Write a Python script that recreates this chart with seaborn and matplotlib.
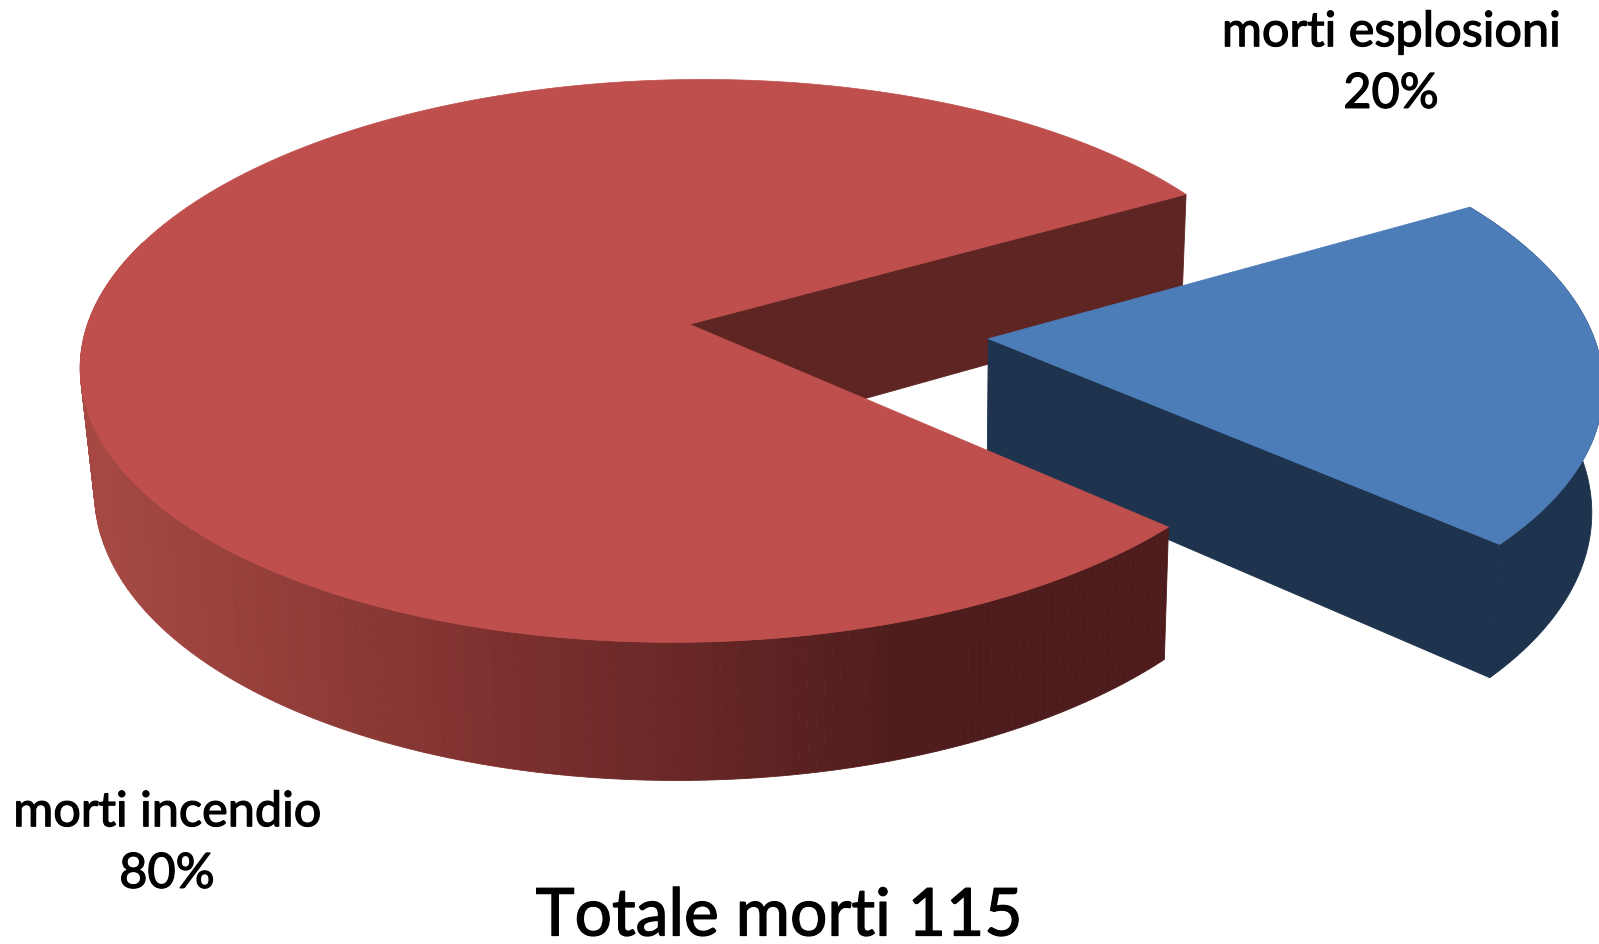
import numpy as np
import matplotlib
matplotlib.use('Agg')
import matplotlib.pyplot as plt
import matplotlib.patheffects as pe
import seaborn as sns

categorie = ['morti incendio', 'morti esplosioni']
morti = [92, 23]
colori_top = ['#BF4F4C', '#4C7DB8']
titolo = 'Totale morti 115'

sns.set_theme(style='white')
plt.rcParams['font.family'] = ['Lato', 'DejaVu Sans']

# vista 3D della torta, in pixel
cx, cy = 689.5, 324.3
a, b, s, k = 602, 276.7, 15, 0.13
inizio = -42.0   # angolo dove parte la fetta blu
esplosione = 0.497
dir_esplosione = np.radians(-6)


def proietta(X, Y):
    w = 1 + k * Y
    return cx + (a * X + s * Y) / w, cy - b * Y / w


def base(x, y):
    return cx + 4 + 0.983 * (x - cx), 106 + 1.05 * y


def faccia(ax, xa, ya, xb, yb, colore, z):
    ax.fill(np.r_[xa, xb[::-1]], np.r_[ya, yb[::-1]], color=colore, lw=0.6, zorder=z)


fig, ax = plt.subplots(figsize=(15.99, 9.44), dpi=100)
fig.subplots_adjust(0, 0, 1, 1)
ax.set_xlim(0, 1599)
ax.set_ylim(944, 0)
ax.axis('off')

fine_blu = inizio + 360 * morti[1] / sum(morti)
dx, dy = esplosione * np.cos(dir_esplosione), esplosione * np.sin(dir_esplosione)

# fetta rossa: faccia interna, lato esterno sfumato, sopra
t_rosso = np.radians(np.linspace(fine_blu, inizio + 360, 400))
xr, yr = proietta(np.cos(t_rosso), np.sin(t_rosso))
xrb, yrb = base(xr, yr)
x0, y0 = proietta(np.array([0.0]), np.array([0.0]))
x0b, y0b = base(x0, y0)
faccia(ax, np.r_[x0, xr[0]], np.r_[y0, yr[0]], np.r_[x0b, xrb[0]], np.r_[y0b, yrb[0]], '#5E2523', 1)

sfumatura = sns.blend_palette(['#A54842', '#7C302E', '#4E1C1C'], 80)
visibili = np.where(t_rosso > np.pi * 0.9)[0]
for i in visibili[:-1]:
    pos = np.clip((xr[i] - 95) / (900 - 95), 0, 1)
    faccia(ax, xr[i:i + 2], yr[i:i + 2], xrb[i:i + 2], yrb[i:i + 2], sfumatura[int(pos * 79)], 4)
ax.fill(np.r_[x0, xr], np.r_[y0, yr], color=colori_top[0], lw=0.5, zorder=5)

# fetta blu esplosa
t_blu = np.radians(np.linspace(inizio, fine_blu, 150))
xt, yt = proietta(dx + np.cos(t_blu), dy + np.sin(t_blu))
xtb, ytb = base(xt, yt)
xc, yc = proietta(np.array([dx]), np.array([dy]))
xcb, ycb = base(xc, yc)
faccia(ax, np.r_[xc, xt[0]], np.r_[yc, yt[0]], np.r_[xcb, xtb[0]], np.r_[ycb, ytb[0]], '#1E334D', 2)
faccia(ax, xt, yt, xtb, ytb, '#1E334D', 2)
ax.fill(np.r_[xc, xt], np.r_[yc, yt], color=colori_top[1], lw=0.5, zorder=3)

# testo un po' piu' pesante, come nell'originale
spesso = [pe.withStroke(linewidth=0.9, foreground='black')]
perc = [f'{v / sum(morti):.0%}' for v in morti]
ax.text(167, 843, f'{categorie[0]}\n{perc[0]}', ha='center', va='center', fontsize=35,
        color='black', linespacing=1.49, zorder=6, path_effects=spesso)
ax.text(1391, 63, f'{categorie[1]}\n{perc[1]}', ha='center', va='center', fontsize=35,
        color='black', linespacing=1.49, zorder=6, path_effects=spesso)
ax.text(779, 917, titolo, ha='center', va='center', fontsize=47.5, color='black', zorder=6,
        path_effects=spesso)

fig.savefig('out.png', dpi=100)
